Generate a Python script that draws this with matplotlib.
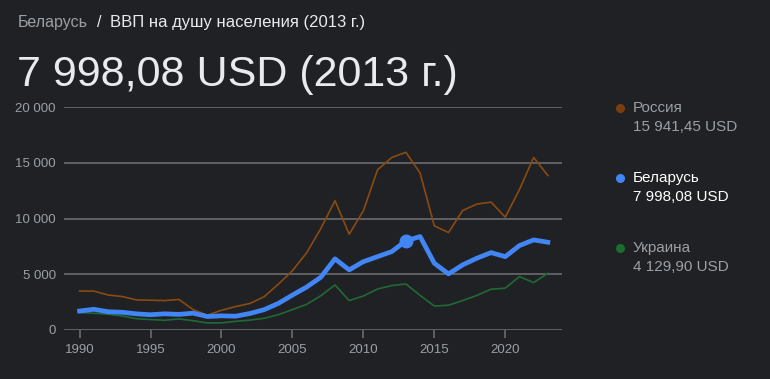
import numpy as np
import matplotlib.pyplot as plt
from matplotlib.lines import Line2D

years = list(range(1990, 2024))
russia = [3490, 3490, 3140, 3000, 2700, 2670, 2640, 2740, 1830, 1330,
          1770, 2100, 2380, 2980, 4100, 5320, 6920, 9100, 11600, 8590,
          10690, 14370, 15470, 15941, 14070, 9340, 8740, 10720, 11290, 11470,
          10120, 12590, 15470, 13860]
belarus = [1700, 1860, 1640, 1590, 1450, 1370, 1450, 1400, 1510, 1210,
           1270, 1240, 1480, 1820, 2380, 3130, 3850, 4730, 6380, 5390,
           6130, 6580, 7030, 7998, 8380, 5990, 5030, 5840, 6440, 6940,
           6580, 7570, 8080, 7870]
ukraine = [1570, 1500, 1420, 1260, 1010, 935, 873, 991, 835, 636,
           636, 780, 880, 1050, 1370, 1830, 2300, 3070, 4040, 2640,
           3050, 3680, 3980, 4130, 3100, 2150, 2220, 2640, 3100, 3660,
           3750, 4790, 4250, 5090]

legend_names = ["Россия", "Беларусь", "Украина"]
legend_values = ["15 941,45 USD", "7 998,08 USD", "4 129,90 USD"]
yticks = [0, 5000, 10000, 15000, 20000]
ytick_labels = ["0", "5 000", "10 000", "15 000", "20 000"]
xticks = [1990, 1995, 2000, 2005, 2010, 2015, 2020]

bg = '#202124'
brown = '#8a4a12'
blue = '#4285f4'
green = '#1f6a34'
grid_c = '#646568'
label_c = '#9aa0a6'

plt.rcParams['font.family'] = ['Liberation Sans', 'DejaVu Sans']

fig = plt.figure(figsize=(7.7, 3.79), dpi=100, facecolor=bg)
ax = fig.add_axes([64 / 770, 49 / 379, 498 / 770, 223 / 379])
ax.set_facecolor(bg)

ax.plot(years, russia, color=brown, lw=1.2, zorder=3)
ax.plot(years, ukraine, color=green, lw=1.2, zorder=3)
ax.plot(years, belarus, color=blue, lw=3.4, zorder=4, solid_joinstyle='round')
ax.plot([2013], [belarus[years.index(2013)]], 'o', color=blue, ms=9, zorder=5)

ax.set_xlim(1988.9, 2024)
ax.set_ylim(0, 20000)
ax.set_yticks(yticks)
ax.set_yticklabels(ytick_labels)
ax.set_xticks(xticks)
ax.set_xticklabels([str(x) for x in xticks])
for v in yticks:
    ax.axhline(v, color=grid_c, lw=1.3, zorder=1)
for s in ax.spines.values():
    s.set_visible(False)
ax.tick_params(axis='y', length=0, pad=6, labelsize=9.5, labelcolor=label_c)
ax.tick_params(axis='x', length=6, width=1.3, color=grid_c, pad=4,
               labelsize=9.5, labelcolor=label_c)

# header
fig.text(18 / 770, 1 - 27 / 379, "Беларусь", color=label_c, fontsize=11.5, va='baseline')
fig.text(97 / 770, 1 - 27 / 379, "/", color='#e8eaed', fontsize=11.5, va='baseline')
fig.text(110 / 770, 1 - 27 / 379, "ВВП на душу населения (2013 г.)",
         color='#e8eaed', fontsize=12, va='baseline')
fig.text(17 / 770, 1 - 86 / 379, "7 998,08 USD (2013 г.)", color='#e8eaed',
         fontsize=31, va='baseline')

# side legend
name_colors = ['#9aa0a6', '#ffffff', '#9aa0a6']
dot_colors = ['#7a3f0d', blue, '#1c6b30']
for i in range(3):
    y0 = 1 - (108 + i * 70) / 379
    fig.add_artist(Line2D([620 / 770], [y0], marker='o', ms=5.5, ls='none',
                          color=dot_colors[i], transform=fig.transFigure))
    fig.text(633 / 770, y0, legend_names[i], color=name_colors[i],
             fontsize=11, va='center')
    fig.text(633 / 770, y0 - 19 / 379, legend_values[i], color=name_colors[i],
             fontsize=11, va='center')

fig.savefig('out.png', dpi=100, facecolor=bg)
